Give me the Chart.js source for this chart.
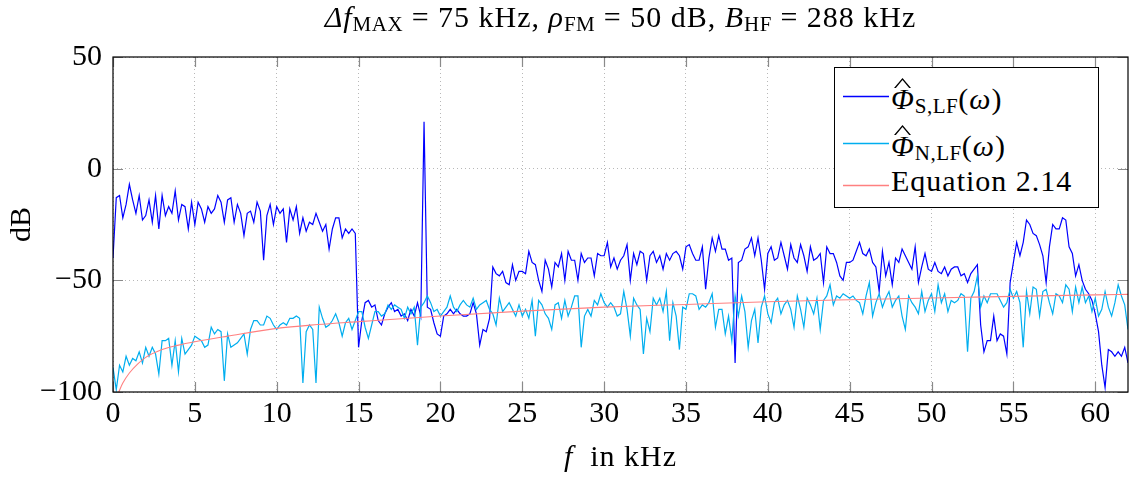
<!DOCTYPE html>
<html>
<head>
<meta charset="utf-8">
<script src="https://cdn.jsdelivr.net/npm/chart.js@4.4.0/dist/chart.umd.min.js"></script>
<style>
  html, body { margin: 0; padding: 0; background: #fff; }
  body { font-family: 'Liberation Serif', 'DejaVu Serif', serif; color: #000; }
  #wrap { position: relative; width: 1129px; height: 477px; overflow: hidden; }
  #chart { position: absolute; left: 0; top: 0; }
  .txt { position: absolute; font-size: 30px; line-height: 30px; white-space: pre; letter-spacing: 1px; }
  .m { font-style: italic; }
  sub { font-size: 0.7em; vertical-align: -0.17em; line-height: 0; font-style: normal; letter-spacing: 0.5px; }
  #legend { position: absolute; left: 834px; top: 67px; width: 263px; height: 139px;
            border: 1px solid #000; background: #fff; }
  #legend svg { position: absolute; left: 0; top: 0; }
  #legend .txt { left: 56px; }
  .hat { position: relative; display: inline-block; line-height: 30px; }
  .hat::before { content: ''; position: absolute; left: 3px; top: -6px; width: 17px; height: 10px;
                 background: #000;
                 clip-path: polygon(0% 100%, 50% 0%, 100% 100%, 89% 100%, 50% 20%, 11% 100%); }
</style>
</head>
<body>
<div id="wrap">
  <canvas id="chart" width="1129" height="477"></canvas>
  <div class="txt" style="left:113px; width:1015px; top:2px; text-align:center;"><span class="m">Δf</span><sub>MAX</sub> = 75 kHz, <span class="m">ρ</span><sub>FM</sub> = 50 dB, <span class="m">B</span><sub>HF</sub> = 288 kHz</div>
  <div class="txt" style="left:113px; width:1015px; top:441px; text-align:center;"><span class="m">f</span>  in kHz</div>
  <div id="legend">
    <svg width="60" height="139">
      <line x1="8" y1="28.5" x2="54" y2="28.5" stroke="#0000ff" stroke-width="1.4"/>
      <line x1="8" y1="75.5" x2="54" y2="75.5" stroke="#00aeef" stroke-width="1.4"/>
      <line x1="8" y1="117.5" x2="54" y2="117.5" stroke="#ff8080" stroke-width="1.4"/>
    </svg>
    <div class="txt" style="top:16px;"><span class="hat"><span class="m">Φ</span></span><sub>S,LF</sub>(<span class="m">ω</span>)</div>
    <div class="txt" style="top:63px;"><span class="hat"><span class="m">Φ</span></span><sub>N,LF</sub>(<span class="m">ω</span>)</div>
    <div class="txt" style="top:98px;">Equation 2.14</div>
  </div>
</div>
<script>
// frequency grid: one value every 0.2 kHz from 0 to 62 kHz
const fStep = 0.2;

// estimated spectrum of the LF signal in dB
const sigLF = [
  -40, -13, -12, -22, -16, -7, -14, -20, -12, -23,
  -21, -14, -24, -12, -27, -12, -21, -17, -20, -10,
  -23, -16, -17, -27, -15, -25, -15, -18, -24, -17,
  -20, -18, -12, -15, -24, -14, -13, -24, -16, -20,
  -30, -20, -19, -24, -15, -19, -41, -21, -16, -25,
  -17, -20, -18, -33, -18, -23, -17, -29, -22, -28,
  -24, -25, -20, -24, -28, -25, -36, -27, -22, -22,
  -31, -27, -29, -27, -29, -80,
  -68, -60, -59, -62, -61, -68, -70, -65, -62, -60,
  -64, -63, -66, -65, -68, -63, -66, -60, -66, 21,
  -62, -63, -69, -74, -75, -66, -65, -63, -65, -63,
  -65, -66, -66, -65, -60, -65, -79, -72, -73, -67,
  -44, -47, -48, -46, -51, -52, -43, -50, -46, -46,
  -47, -37, -42, -43, -50, -55, -41, -45, -53, -42,
  -44, -38, -50, -37, -41, -41, -50, -38, -42, -40,
  -40, -48, -38, -39, -39,
  -33, -44, -40, -45, -41, -39, -34, -50, -38, -43,
  -37, -38, -50, -39, -37, -42, -39, -45, -38, -41,
  -38, -37, -39, -45, -35, -34, -38, -41, -41, -35,
  -54, -40, -31, -37, -30, -36, -36, -41, -40, -87,
  -42, -41, -36, -35, -31, -39, -31, -41, -54, -38,
  -35, -41, -40, -33, -39, -45, -34, -40, -42, -34,
  -39, -46, -35, -41, -40, -38, -51, -35, -38, -38,
  -42, -48, -50, -42, -42,
  -41, -37, -33, -38, -39, -36, -42, -44, -55, -37,
  -48, -42, -52, -40, -42, -36, -39, -42, -45, -35,
  -51, -44, -38, -45, -46, -42, -46, -47, -44, -48,
  -45, -44, -44, -48, -47, -51, -47, -45, -43, -70,
  -82, -77, -77, -66, -77, -74, -75, -83, -51, -42,
  -33, -39, -33, -23, -25, -29, -30, -34, -39, -51,
  -35, -25, -27, -27, -22, -23, -35, -38, -48, -43,
  -50, -54, -56, -59, -65, -73, -88, -98, -81, -82,
  -84, -82, -84, -80, -87
];

// estimated spectrum of the LF noise in dB
const noiseLF = [
  -89, -99, -88, -91, -84, -88, -85, -86, -82, -87,
  -80, -84, -80, -83, -92, -77, -77, -76, -88, -77,
  -91, -76, -83, -81, -79, -75, -76, -77, -80, -79,
  -71, -74, -72, -73, -95, -74, -80, -79, -78, -76,
  -74, -83, -72, -68, -68, -70, -70, -66, -67, -70,
  -72, -70, -69, -70, -67, -67, -66, -67, -96, -73,
  -70, -72, -96, -62, -67, -71, -70, -68, -65, -69,
  -75, -69, -67, -72, -68, -64,
  -64, -71, -76, -70, -64, -64, -66, -65, -61, -63,
  -61, -62, -63, -67, -62, -65, -62, -79, -62, -60,
  -57, -60, -64, -63, -66, -64, -62, -57, -62, -64,
  -61, -59, -61, -62, -58, -63, -61, -60, -59, -63,
  -65, -70, -58, -64, -62, -60, -63, -66, -61, -66,
  -63, -67, -59, -75, -59, -61, -65, -67, -72, -61,
  -60, -67, -59, -66, -62, -57, -57, -80, -66, -63,
  -66, -59, -61, -56, -60,
  -62, -60, -62, -66, -65, -55, -63, -75, -58, -61,
  -63, -83, -67, -73, -58, -61, -58, -64, -55, -77,
  -60, -66, -81, -62, -63, -56, -56, -57, -63, -61,
  -62, -60, -56, -71, -63, -63, -74, -66, -77, -57,
  -66, -57, -64, -80, -68, -63, -78, -62, -57, -65,
  -69, -60, -58, -65, -61, -59, -63, -71, -57, -63,
  -71, -58, -61, -65, -58, -72, -59, -57, -52, -61,
  -57, -58, -56, -57, -58,
  -57, -59, -60, -65, -57, -51, -66, -60, -56, -62,
  -58, -55, -62, -59, -57, -66, -72, -57, -60, -62,
  -65, -55, -64, -59, -56, -64, -52, -60, -56, -64,
  -59, -60, -59, -56, -57, -82, -58, -55, -48, -62,
  -57, -60, -56, -56, -56, -59, -62, -60, -54, -58,
  -55, -60, -80, -55, -65, -53, -54, -66, -55, -54,
  -60, -65, -56, -57, -60, -52, -54, -64, -53, -60,
  -53, -60, -57, -64, -58, -66, -63, -55, -62, -66,
  -60, -52, -57, -61, -72
];

// Equation 2.14 curve, read at a few frequencies
const eqFreq = [0.35, 0.6, 1, 1.5, 2, 3, 4, 5, 7, 10, 12.5, 15, 20, 25, 30, 35, 40, 45, 50, 55, 60, 62];
const eqDb = [-100, -96, -91.5, -87.5, -84.5, -81, -79, -77.5, -75, -71.5, -69.8, -68.5, -66, -63.8, -62, -60.8, -59.6, -58.7, -57.9, -57.2, -56.5, -56.3];

const xTicks = [0, 5, 10, 15, 20, 25, 30, 35, 40, 45, 50, 55, 60];
const yTicks = [-100, -50, 0, 50];

const fontFamily = "'Liberation Serif', 'DejaVu Serif', serif";

// inward tick marks on all four sides plus the black frame
const frameTicks = {
  id: 'frameTicks',
  afterDatasetsDraw(chart) {
    const { ctx, chartArea: a, scales: { x, y } } = chart;
    ctx.save();
    ctx.strokeStyle = '#8a8a8a';
    ctx.lineWidth = 1.2;
    ctx.beginPath();
    x.ticks.forEach(t => {
      const px = Math.round(x.getPixelForValue(t.value)) + 0.5;
      ctx.moveTo(px, a.bottom); ctx.lineTo(px, a.bottom - 10);
      ctx.moveTo(px, a.top); ctx.lineTo(px, a.top + 10);
    });
    y.ticks.forEach(t => {
      const py = Math.round(y.getPixelForValue(t.value)) + 0.5;
      ctx.moveTo(a.left, py); ctx.lineTo(a.left + 10, py);
      ctx.moveTo(a.right, py); ctx.lineTo(a.right - 10, py);
    });
    ctx.stroke();
    ctx.strokeStyle = '#000';
    ctx.lineWidth = 1.2;
    ctx.strokeRect(a.left, a.top, a.right - a.left, a.bottom - a.top);
    ctx.restore();
  }
};

const ctx = document.getElementById('chart').getContext('2d');
const psdChart = new Chart(ctx, {
  type: 'line',
  data: {
    datasets: [
      {
        label: 'Equation 2.14',
        data: eqFreq.map((f, i) => ({ x: f, y: eqDb[i] })),
        borderColor: '#ff8080',
        borderWidth: 1.1,
        pointRadius: 0,
        cubicInterpolationMode: 'monotone',
        order: 1
      },
      {
        label: 'Phi N,LF',
        data: noiseLF.map((v, i) => ({ x: i * fStep, y: v })),
        borderColor: '#00aeef',
        borderWidth: 1.2,
        pointRadius: 0,
        tension: 0,
        order: 2
      },
      {
        label: 'Phi S,LF',
        data: sigLF.map((v, i) => ({ x: i * fStep, y: v })),
        borderColor: '#0000ff',
        borderWidth: 1.2,
        pointRadius: 0,
        tension: 0,
        order: 3
      }
    ]
  },
  options: {
    responsive: false,
    animation: false,
    devicePixelRatio: 1,
    layout: { padding: { top: 57, right: 1, left: 0, bottom: 0 } },
    plugins: {
      legend: { display: false },
      tooltip: { enabled: false }
    },
    scales: {
      x: {
        type: 'linear',
        min: 0,
        max: 62,
        afterBuildTicks: s => { s.ticks = xTicks.map(v => ({ value: v })); },
        afterFit: s => { s.height = 85; },
        grid: { color: '#b8b8b8', lineWidth: 1, drawTicks: false },
        border: { display: false, dash: [1, 3] },
        ticks: {
          padding: 4,
          color: '#000',
          maxRotation: 0,
          font: { family: fontFamily, size: 30 }
        }
      },
      y: {
        min: -100,
        max: 50,
        afterBuildTicks: s => { s.ticks = yTicks.map(v => ({ value: v })); },
        afterFit: s => { s.width = 113; },
        grid: { color: '#b8b8b8', lineWidth: 1, drawTicks: false },
        border: { display: false, dash: [1, 3] },
        title: {
          display: true,
          text: 'dB',
          color: '#000',
          padding: { top: 4, bottom: 0 },
          font: { family: fontFamily, size: 30 }
        },
        ticks: {
          padding: 11,
          color: '#000',
          font: { family: fontFamily, size: 30 },
          callback: v => String(v).replace('-', '\u2212')
        }
      }
    }
  },
  plugins: [frameTicks]
});
</script>
</body>
</html>
